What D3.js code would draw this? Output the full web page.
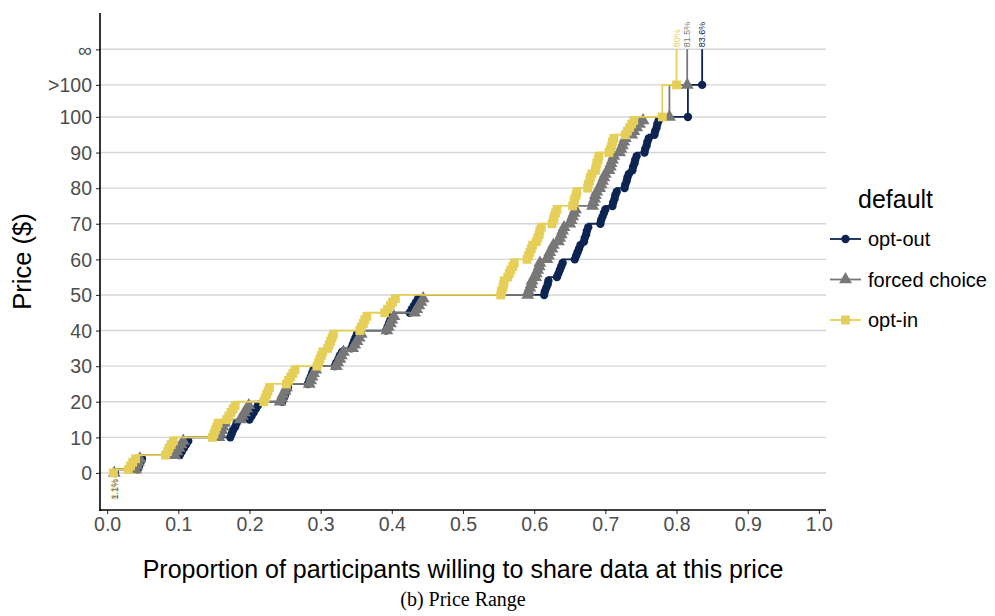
<!DOCTYPE html>
<html><head><meta charset="utf-8">
<script src="https://cdn.jsdelivr.net/npm/d3@7"></script>
<style>body{margin:0;background:#fff}svg{display:block}</style>
</head><body><svg id="c" width="995" height="616"></svg>
<script>
// ---- data ----
const prices = [0,1,2,3,4,5,6,7,8,9,10,11,12,13,14,15,16,17,18,19,20,21,22,23,24,25,26,27,28,29,30,31,32,33,34,35,36,37,38,39,40,41,42,43,44,45,46,47,48,49,50,51,52,53,54,55,56,57,58,59,60,61,62,63,64,65,66,67,68,69,70,71,72,73,74,75,76,77,78,79,80,81,82,83,84,85,86,87,88,89,90,91,92,93,94,95,96,97,98,99,100,109];
const optOut = [0.011,0.043,0.045,0.047,0.049,0.102,0.105,0.108,0.111,0.114,0.173,0.175,0.177,0.180,0.182,0.200,0.203,0.206,0.209,0.212,0.246,0.248,0.250,0.252,0.254,0.282,0.284,0.286,0.288,0.290,0.320,0.322,0.325,0.327,0.330,0.343,0.345,0.347,0.349,0.351,0.392,0.394,0.396,0.398,0.400,0.425,0.428,0.431,0.434,0.437,0.614,0.615,0.617,0.619,0.620,0.632,0.634,0.636,0.638,0.640,0.657,0.659,0.661,0.663,0.665,0.670,0.671,0.673,0.674,0.676,0.693,0.694,0.696,0.698,0.700,0.710,0.711,0.713,0.714,0.716,0.727,0.728,0.730,0.731,0.733,0.738,0.739,0.741,0.742,0.744,0.755,0.756,0.758,0.759,0.761,0.769,0.770,0.772,0.773,0.775,0.816,0.836];
const forcedChoice = [0.010,0.040,0.042,0.044,0.046,0.095,0.098,0.101,0.104,0.107,0.157,0.159,0.161,0.163,0.165,0.187,0.190,0.193,0.196,0.199,0.243,0.245,0.247,0.250,0.252,0.284,0.286,0.288,0.290,0.293,0.322,0.324,0.327,0.329,0.332,0.345,0.348,0.351,0.354,0.357,0.393,0.395,0.398,0.400,0.403,0.432,0.435,0.438,0.441,0.444,0.591,0.592,0.594,0.596,0.597,0.602,0.603,0.605,0.607,0.608,0.618,0.620,0.622,0.625,0.627,0.634,0.636,0.638,0.640,0.642,0.650,0.652,0.654,0.656,0.658,0.682,0.683,0.685,0.686,0.688,0.692,0.694,0.696,0.698,0.700,0.705,0.707,0.708,0.710,0.712,0.720,0.722,0.724,0.726,0.728,0.737,0.740,0.744,0.748,0.753,0.790,0.815];
const optIn = [0.009,0.030,0.033,0.036,0.040,0.082,0.085,0.087,0.090,0.093,0.148,0.150,0.152,0.154,0.156,0.168,0.171,0.174,0.177,0.180,0.220,0.222,0.224,0.226,0.228,0.252,0.255,0.258,0.261,0.264,0.295,0.297,0.299,0.301,0.303,0.310,0.312,0.314,0.316,0.318,0.355,0.357,0.360,0.362,0.365,0.390,0.394,0.398,0.401,0.405,0.553,0.554,0.556,0.557,0.558,0.563,0.565,0.567,0.570,0.572,0.590,0.592,0.594,0.596,0.598,0.603,0.605,0.607,0.608,0.610,0.625,0.627,0.628,0.630,0.632,0.654,0.656,0.657,0.659,0.660,0.675,0.676,0.678,0.679,0.681,0.686,0.687,0.688,0.690,0.691,0.705,0.707,0.709,0.710,0.712,0.728,0.731,0.734,0.737,0.740,0.780,0.800];
const infPrice = 119;
const seriesNames = ["opt-out","forced choice","opt-in"];
const seriesColors = ["#0b2452","#777777","#e6cf58"];
const seriesShapes = ["circle","triangle","square"];
const yTickValues = [0,10,20,30,40,50,60,70,80,90,100,109,119];
const yTickLabels = ["0","10","20","30","40","50","60","70","80","90","100",">100","\u221E"];
const xTickValues = [0,0.1,0.2,0.3,0.4,0.5,0.6,0.7,0.8,0.9,1.0];

// ---- layout ----
const svg = d3.select("#c");
const L = 100, R = 826, T = 13, B = 510;
const x = d3.scaleLinear().domain([-0.01, 1.01]).range([L, R]);
const y = d3.scaleLinear().domain([-10.4, 129.2]).range([B, T]);
const font = "'Liberation Sans', Arial, sans-serif";

// grid
svg.append("g").selectAll("line").data(yTickValues).join("line")
  .attr("x1", L).attr("x2", R).attr("y1", d => y(d)).attr("y2", d => y(d))
  .attr("stroke", "#d6d6d6").attr("stroke-width", 1.4);

// axes
const yAxis = d3.axisLeft(y).tickValues(yTickValues).tickFormat((d,i) => yTickLabels[i]).tickSize(4).tickPadding(4);
const gy = svg.append("g").attr("transform", `translate(${L},0)`).call(yAxis);
const xAxis = d3.axisBottom(x).tickValues(xTickValues).tickFormat(d3.format(".1f")).tickSize(4).tickPadding(3);
const gx = svg.append("g").attr("transform", `translate(0,${B})`).call(xAxis);
[gx, gy].forEach(g => {
  g.select(".domain").remove();
  g.selectAll(".tick line").attr("stroke", "#333").attr("stroke-width", 1.1);
  g.selectAll(".tick text").attr("fill", "#4d4d4d").style("font-family", font).style("font-size", "19.5px");
});
gy.selectAll(".tick text").attr("dy", "0.35em");
svg.append("line").attr("x1", L).attr("x2", L).attr("y1", T).attr("y2", B + 1).attr("stroke", "#000").attr("stroke-width", 1.6);
svg.append("line").attr("x1", L - 0.8).attr("x2", R).attr("y1", B).attr("y2", B).attr("stroke", "#000").attr("stroke-width", 1.6);

// series
const allData = [optOut, forcedChoice, optIn];
const sym = {
  circle: d3.symbol().type(d3.symbolCircle).size(55),
  triangle: d3.symbol().type(d3.symbolTriangle).size(72),
  square: d3.symbol().type(d3.symbolSquare).size(78)
};
const line = d3.line().x(d => x(d[0])).y(d => y(d[1])).curve(d3.curveStepBefore);
const pct = d3.format(".1~%");

allData.forEach((vals, si) => {
  const col = seriesColors[si];
  const pts = vals.map((v, i) => [v, prices[i]]);
  const g = svg.append("g");
  const last = pts[pts.length - 1];
  g.append("path").datum(pts.concat([[last[0], infPrice]]))
    .attr("d", line).attr("fill", "none").attr("stroke", col).attr("stroke-width", 1.8);
  g.selectAll("path.pt").data(pts).join("path").attr("class", "pt")
    .attr("transform", d => `translate(${x(d[0])},${y(d[1])})`)
    .attr("d", sym[seriesShapes[si]]).attr("fill", col);
  // top label
  g.append("text").attr("transform", `translate(${x(last[0]) + 3},${y(infPrice) - 2}) rotate(-90)`)
    .attr("text-anchor", "start").attr("fill", col)
    .style("font-family", font).style("font-size", "9px").text(pct(last[0]));
  // bottom label
  g.append("text").attr("transform", `translate(${x(pts[0][0]) + 3},${y(0) + 6}) rotate(-90)`)
    .attr("text-anchor", "end").attr("fill", col)
    .style("font-family", font).style("font-size", "9px").text(pct(pts[0][0]));
});

// axis titles
svg.append("text").attr("x", 463).attr("y", 578).attr("text-anchor", "middle")
  .style("font-family", font).style("font-size", "25px").attr("fill", "#000")
  .text("Proportion of participants willing to share data at this price");
svg.append("text").attr("transform", `translate(31,${(T + B) / 2}) rotate(-90)`).attr("text-anchor", "middle")
  .style("font-family", font).style("font-size", "25.5px").attr("fill", "#000").text("Price ($)");
svg.append("text").attr("x", 463).attr("y", 606).attr("text-anchor", "middle")
  .style("font-family", "'Liberation Serif', 'DejaVu Serif', serif").style("font-size", "20px").attr("fill", "#000")
  .text("(b) Price Range");

// legend
const lg = svg.append("g");
lg.append("text").attr("x", 858).attr("y", 208).style("font-family", font).style("font-size", "25px").text("default");
seriesNames.forEach((n, i) => {
  const cy = 239 + i * 40.5;
  lg.append("line").attr("x1", 830).attr("x2", 861).attr("y1", cy).attr("y2", cy)
    .attr("stroke", seriesColors[i]).attr("stroke-width", 1.8);
  lg.append("path").attr("transform", `translate(845.5,${cy})`).attr("d", sym[seriesShapes[i]]).attr("fill", seriesColors[i]);
  lg.append("text").attr("x", 868).attr("y", cy + 7).style("font-family", font).style("font-size", "20px").attr("fill", "#000").text(n);
});
</script></body></html>
